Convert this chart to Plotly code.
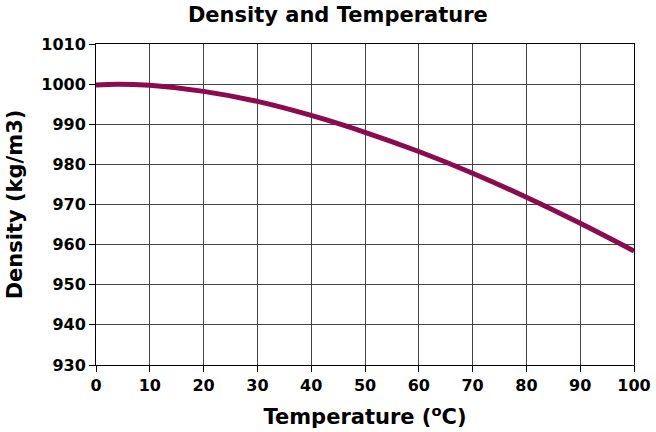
import plotly.graph_objects as go

# water density by temperature
temperature = [0, 4, 10, 20, 30, 40, 50, 60, 70, 80, 90, 100]
density = [999.8, 1000.0, 999.7, 998.2, 995.7, 992.2, 988.0, 983.2, 977.8, 971.8, 965.3, 958.4]

x_ticks = list(range(0, 101, 10))
y_ticks = list(range(930, 1011, 10))

FONT = "DejaVu Sans"

fig = go.Figure()
fig.add_trace(go.Scatter(
    x=temperature,
    y=density,
    mode="lines",
    line=dict(color="#8c0a4e", width=5, shape="spline"),
    showlegend=False,
    hoverinfo="skip",
))

fig.update_layout(
    width=656,
    height=432,
    margin=dict(l=96, r=22, t=44, b=67),
    plot_bgcolor="white",
    paper_bgcolor="white",
    font=dict(family=FONT, color="black"),
    title=dict(
        text="<b>Density and Temperature</b>",
        x=0.515, xanchor="center", y=0.965, yanchor="middle",
        font=dict(size=21, family=FONT, color="black"),
    ),
    xaxis=dict(
        range=[0, 100],
        tickvals=x_ticks,
        ticktext=[f"<b>{v}</b>" for v in x_ticks],
        tickfont=dict(size=16),
        showgrid=True, gridcolor="#444", gridwidth=1,
        showline=True, linecolor="black", linewidth=1,
        mirror=True, automargin=False,
        ticks="outside", ticklen=6, tickcolor="black",
        zeroline=False,
        title=dict(text="<b>Temperature (<sup>o</sup>C)</b>", font=dict(size=21), standoff=15),
    ),
    yaxis=dict(
        range=[930, 1010],
        tickvals=y_ticks,
        ticktext=[f"<b>{v}</b>" for v in y_ticks],
        tickfont=dict(size=16),
        showgrid=True, gridcolor="#444", gridwidth=1,
        showline=True, linecolor="black", linewidth=1,
        mirror=True, automargin=False,
        ticks="outside", ticklen=6, tickcolor="black",
        zeroline=False,
        title=dict(text="<b>Density (kg/m3)</b>", font=dict(size=21), standoff=12),
    ),
)

fig.write_html("out.html", config={"displayModeBar": False},
               post_script="document.body.style.margin='0';")
